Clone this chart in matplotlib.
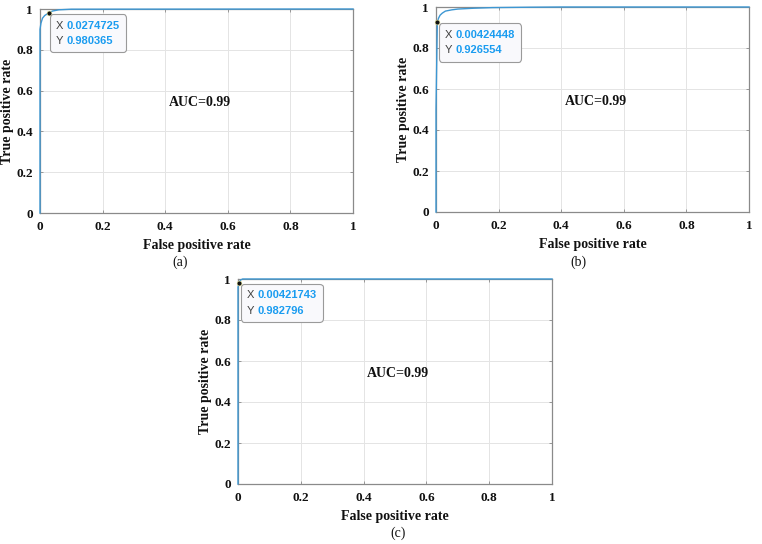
import matplotlib
matplotlib.use("Agg")
import matplotlib.pyplot as plt
from matplotlib.offsetbox import AnnotationBbox, TextArea, VPacker, HPacker

# ---------------- data ----------------
fpr_a = [0.0, 0.0, 0.0, 0.003, 0.008, 0.015, 0.0274725, 0.04, 0.06, 0.1, 1.0]
tpr_a = [0.0, 0.5, 0.90, 0.93, 0.955, 0.968, 0.980365, 0.99, 0.996, 0.999, 1.0]

fpr_b = [0.0, 0.0, 0.00424448, 0.008, 0.013, 0.02, 0.03, 0.05, 0.07, 0.12, 0.18, 0.3, 0.4, 1.0]
tpr_b = [0.0, 0.5, 0.926554, 0.945, 0.96, 0.97, 0.98, 0.986, 0.99, 0.994, 0.997, 0.999, 1.0, 1.0]

fpr_c = [0.0, 0.0, 0.00421743, 0.008, 0.015, 1.0]
tpr_c = [0.0, 0.96, 0.982796, 0.995, 1.0, 1.0]

tip_a = ("0.0274725", "0.980365")
tip_b = ("0.00424448", "0.926554")
tip_c = ("0.00421743", "0.982796")

auc_text = "AUC=0.99"
captions = ["(a)", "(b)", "(c)"]
ticks = [0, 0.2, 0.4, 0.6, 0.8, 1]
tick_labels = ["0", "0.2", "0.4", "0.6", "0.8", "1"]

# ---------------- style ----------------
SERIF = "Liberation Serif"
SANS = "Liberation Sans"
LINE_C = "#3d97d3"
TIP_C = "#1a9cf0"
AX_C = "#8a8a8a"

fig = plt.figure(figsize=(7.62, 5.44), dpi=100)
W, H = 762, 544


def make_ax(l, t, r, b):
    return fig.add_axes([l / W, 1 - b / H, (r - l) / W, (b - t) / H])


def style(ax):
    ax.set_xlim(0, 1)
    ax.set_ylim(0, 1)
    ax.set_xticks(ticks)
    ax.set_yticks(ticks)
    ax.set_xticklabels(tick_labels, fontfamily=SERIF, fontweight="bold", fontsize=9.5)
    ax.set_yticklabels(tick_labels, fontfamily=SERIF, fontweight="bold", fontsize=9.5)
    ax.tick_params(direction="in", length=2.5, width=0.6, color=AX_C,
                   top=True, right=True, pad=5, labelcolor="#111111")
    ax.tick_params(axis="x", pad=6)
    for s in ax.spines.values():
        s.set_color(AX_C)
        s.set_linewidth(0.9)
    ax.grid(True, color="#e4e4e4", linewidth=0.7)
    ax.set_axisbelow(True)
    ax.set_xlabel("False positive rate", fontfamily=SERIF, fontweight="bold",
                  fontsize=10, labelpad=4, color="#111111")
    ax.set_ylabel("True positive rate", fontfamily=SERIF, fontweight="bold",
                  fontsize=10, color="#111111")
    ax.yaxis.set_label_coords(-0.082, 0.5)
    ax.text(0.51, 0.54, auc_text, ha="center", va="center", fontfamily=SERIF,
            fontweight="bold", fontsize=10, color="#111111", transform=ax.transAxes)


def datatip(ax, x, y, tip):
    ax.plot([x], [y], marker="o", ms=3.5, color="#111111", mec="#f0f0a0", mew=0.4,
            zorder=6, clip_on=False)
    rows = []
    for lab, val in zip(["X", "Y"], tip):
        t1 = TextArea(lab + " ", textprops=dict(family=SANS, size=8, color="#404040"))
        t2 = TextArea(val, textprops=dict(family=SANS, size=8, color=TIP_C, weight="bold"))
        rows.append(HPacker(children=[t1, t2], align="baseline", pad=0, sep=0))
    box = VPacker(children=rows, align="left", pad=0, sep=4)
    ab = AnnotationBbox(box, (x, y), xybox=(5.5, -5.5), boxcoords="offset points",
                        box_alignment=(0, 1), frameon=True, pad=0.45,
                        bboxprops=dict(boxstyle="round,pad=0.45,rounding_size=0.25",
                                       fc="#f9f9fc", ec="#9a9a9a", lw=0.8))
    ab.set_zorder(7)
    ax.add_artist(ab)


ax_a = make_ax(40, 9, 353, 213)
ax_b = make_ax(436, 7, 749, 212)
ax_c = make_ax(238, 279, 552, 484)

for ax, fx, ty, tip in [(ax_a, fpr_a, tpr_a, tip_a),
                        (ax_b, fpr_b, tpr_b, tip_b),
                        (ax_c, fpr_c, tpr_c, tip_c)]:
    style(ax)
    ax.plot(fx, ty, color=LINE_C, linewidth=1.0, zorder=5, clip_on=False)
    datatip(ax, float(tip[0]), float(tip[1]), tip)

for cap, (cx, cy) in zip(captions, [(180, 262), (578, 262), (398, 533)]):
    fig.text(cx / W, 1 - cy / H, cap, ha="center", va="center",
             fontfamily=SERIF, fontsize=10, color="#111111")

fig.savefig("out.png", dpi=100)
